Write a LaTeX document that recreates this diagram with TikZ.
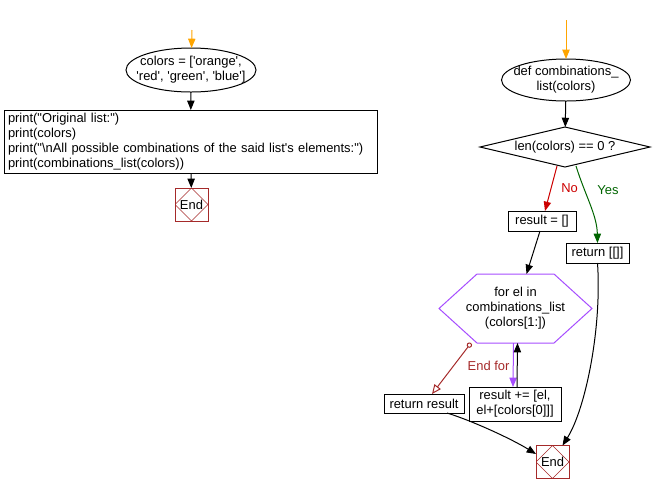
\documentclass[tikz,border=0pt]{standalone}
\usepackage{fontspec}
\setmainfont{Liberation Sans}[Ligatures=TeXOff]
\usetikzlibrary{arrows.meta,positioning,calc,shapes.geometric}
\definecolor{startorange}{HTML}{FFA500}
\definecolor{endred}{HTML}{A52A2A}
\definecolor{looppurple}{HTML}{A64DFF}
\definecolor{yesgreen}{HTML}{006400}
\definecolor{nored}{HTML}{CC0000}

\begin{document}
\begin{tikzpicture}[x=0.75pt,y=-0.75pt,line width=0.75pt,
  >={Triangle[length=7pt,width=5.5pt]},
  font=\fontsize{9.7}{11.3}\selectfont,
  term/.style={ellipse,draw,inner xsep=-8pt,inner ysep=0pt,outer sep=0pt,align=center},
  stmt/.style={rectangle,draw,inner sep=1pt,outer sep=0pt,align=center},
  decide/.style={diamond,draw,inner sep=0pt,outer sep=0pt,aspect=4.25,
    minimum width=127.5pt,minimum height=30pt},
  endbox/.style={rectangle,draw=endred,minimum size=24.75pt,inner sep=0pt,outer sep=0pt,
    path picture={\draw[endred,line width=0.5pt] (path picture bounding box.north)
      -- (path picture bounding box.east) -- (path picture bounding box.south)
      -- (path picture bounding box.west) -- cycle;}},
  arr/.style={->},
  startarr/.style={->,draw=startorange},
  noarr/.style={->,draw=nored},
  yesarr/.style={->,draw=yesgreen},
  looparr/.style={->,draw=looppurple},
  endfor/.style={{Circle[open,length=4pt]}-{Triangle[open,length=7pt,width=6pt]},draw=endred}]
  \useasboundingbox (0,0) rectangle (653,494);

  % main program
  \coordinate (s0) at (192,30);
  \node[term,minimum width=97.5pt,minimum height=33pt] (init) at (191,70)
    {colors = ['orange',\\'red', 'green', 'blue']};
  \node[stmt,anchor=west,align=left,text width=274pt,inner xsep=3pt,minimum height=47.25pt] (show) at (4,141.5)
    {print("Original list:")\\print(colors)\\print("\textbackslash nAll possible combinations of the said list's elements:")\\print(combinations\_list(colors))};
  \node[endbox] (endl) at (191.5,204.5) {End};

  \draw[startarr] (s0) -- (init);
  \draw[arr] (init) -- (show);
  \draw[arr] (show) -- (endl);

  % function
  \coordinate (s1) at (566,20);
  \node[term,minimum width=96.75pt,minimum height=31.5pt] (def) at (566,80)
    {def combinations\_\\list(colors)};
  \node[decide] (test) at (565,147) {len(colors) == 0 ?};
  \node[stmt,minimum width=51pt,minimum height=15pt] (res) at (542,221) {result = []};
  \node[stmt,minimum width=47.25pt,minimum height=15pt] (ret) at (597.5,253) {return [[]]};
  \node[inner sep=0pt,outer sep=0pt,align=center,minimum width=114.75pt,minimum height=51.75pt] (loop) at (515.5,308.5)
    {for el in\\combinations\_list\\(colors[1:])};
  \draw[looppurple] (loop.west) -- ($(loop.north west)+(38,0)$) -- ($(loop.north east)+(-38,0)$)
    -- (loop.east) -- ($(loop.south east)+(-38,0)$) -- ($(loop.south west)+(38,0)$) -- cycle;
  \node[stmt,minimum width=69pt,minimum height=25.5pt] (body) at (515,404) {result += [el,\\el+[colors[0]]]};
  \node[stmt,minimum width=60pt,minimum height=14.25pt] (retres) at (424,403.5) {return result};
  \node[endbox] (endr) at (552.5,462) {End};

  \draw[startarr] (s1) -- (def);
  \draw[arr] (def) -- (test);
  \draw[noarr] ($(test.south)+(-8,-1)$) -- node[right=4pt,text=nored]{No} ($(res.north)+(3,0)$);
  \draw[yesarr] ($(test.south)+(11,-1)$) .. controls (585,195) and (597,215) .. node[pos=0.3,right=6pt,text=yesgreen]{Yes} (ret.north);
  \draw[arr] ($(res.south)+(-2,0)$) -- ($(loop.north)+(11,0)$);
  \draw[looparr] ($(loop.south)+(-2,0)$) -- ($(body.north)+(-2,0)$);
  \draw[arr] ($(body.north)+(2,0)$) -- ($(loop.south)+(2,0)$);
  \draw[endfor] ($(loop.south west)+(32,0)$) -- node[pos=0.45,right=7pt,text=endred]{End for} ($(retres.north)+(8,0)$);
  \draw[arr] ($(retres.south)+(23,0)$) .. controls (470,420) and (510,438) .. ($(endr.west)+(0,-8)$);
  \draw[arr] (ret.south) .. controls (602,330) and (585,410) .. ($(endr.north)+(10,0)$);
\end{tikzpicture}
\end{document}
